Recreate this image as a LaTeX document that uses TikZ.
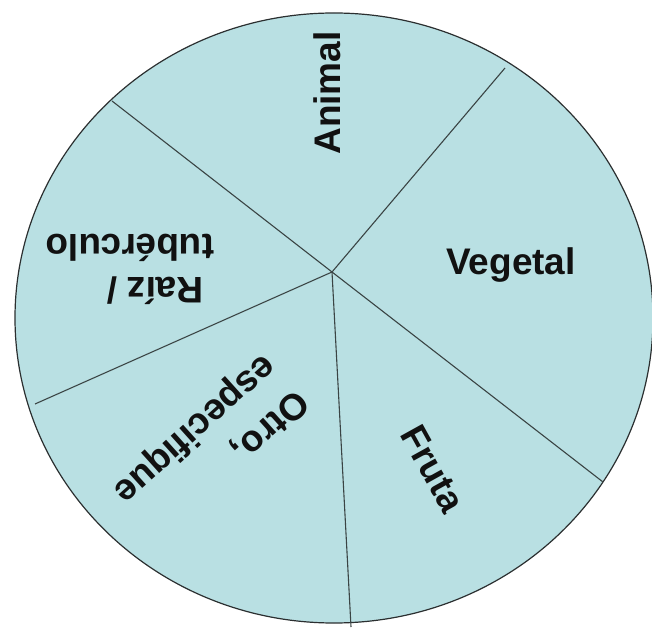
\documentclass[tikz,border=0pt]{standalone}
\usepackage{fontspec}
\setmainfont{Liberation Sans}
\usepackage{xcolor}
\definecolor{ink}{HTML}{111111}
\definecolor{rim}{HTML}{2B2F30}
\definecolor{spokeC}{HTML}{3A4444}
\definecolor{pieFill}{HTML}{B9E0E3}
\tikzset{
  slice/.style={font=\bfseries\fontsize{37}{43}\selectfont, text=ink, inner sep=0pt},
  spoke/.style={draw=spokeC, line width=1.1pt},
  rimline/.style={draw=rim, line width=1.2pt, fill=pieFill}
}

\begin{document}
\begin{tikzpicture}[x=1pt,y=1pt]
\useasboundingbox (0,0) rectangle (652,629);

% disc
\draw[rimline] (334,311) ellipse [x radius=319, y radius=305];

% hub and spoke ends
\coordinate (hub) at (332,357);
\coordinate (endNW) at (112,528);
\coordinate (endNE) at (505,561);
\coordinate (endSE) at (603,147);
\coordinate (endS) at (351,2);
\coordinate (endSW) at (35,225);

\draw[spoke] (hub) -- (endNW);
\draw[spoke] (hub) -- (endNE);
\draw[spoke] (hub) -- (endSE);
\draw[spoke] (hub) -- (endS);
\draw[spoke] (hub) -- (endSW);

% labels
\node[slice, rotate=90, anchor=base] (animal) at (340,536) {Animal};
\node[slice, anchor=base] (vegetal) at (511,354) {Vegetal};
\node[slice, rotate=-61] (fruta) at (433,160) {Fruta};
\node[slice, rotate=222, align=left, font=\bfseries\fontsize{37}{48}\selectfont] (otro) at (210,183) {Otro,\\especifique};
\node[slice, rotate=180, anchor=base] (raiz) at (155,351) {Raíz /};
\node[slice, rotate=180, anchor=base] (tuberculo) at (130,394) {tubérculo};

\end{tikzpicture}
\end{document}
